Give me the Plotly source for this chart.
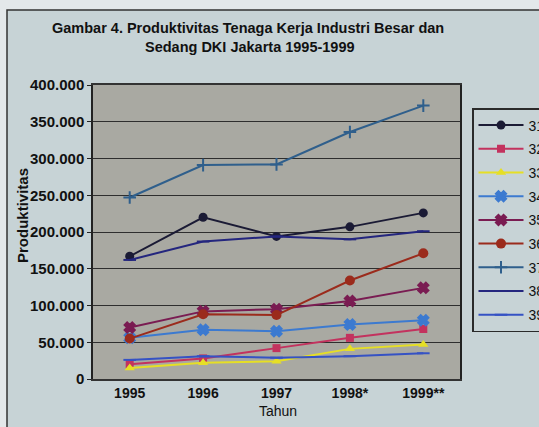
import plotly.graph_objects as go

years = ["1995", "1996", "1997", "1998*", "1999**"]
series_names = ["31", "32", "33", "34", "35", "36", "37", "38", "39"]
s31 = [167000, 220000, 194000, 207000, 226000]
s32 = [20000, 28000, 42000, 56000, 68000]
s33 = [15000, 22000, 24000, 41000, 47000]
s34 = [56000, 67000, 65000, 74000, 80000]
s35 = [70000, 92000, 95000, 106000, 124000]
s36 = [55000, 88000, 87000, 134000, 171000]
s37 = [247000, 291000, 292000, 336000, 372000]
s38 = [162000, 187000, 194000, 190000, 201000]
s39 = [26000, 31000, 29000, 31000, 35000]
values = [s31, s32, s33, s34, s35, s36, s37, s38, s39]

y_tickvals = [0, 50000, 100000, 150000, 200000, 250000, 300000, 350000, 400000]
y_ticktext = ["0", "50.000", "100.000", "150.000", "200.000", "250.000", "300.000", "350.000", "400.000"]

colors = ["#1b1b35", "#c3325e", "#e6df25", "#3c7ad0", "#7a1c52", "#9b2b1c", "#2f5f8c", "#24267e", "#3552c4"]
symbols = ["circle", "square", "triangle-up", "x", "x", "circle", "cross-thin", "line-ew", "line-ew"]
msizes = [9, 8, 9, 9, 9, 10, 9, 9, 9]

W, H = 539, 427
L, R, T, B = 93, 460, 85, 379

def xp(px):
    return (px - L) / (R - L)

def yp(py):
    return (B - py) / (B - T)

fig = go.Figure()
for name, vals, c, sym, ms in zip(series_names, values, colors, symbols, msizes):
    mline = dict(width=2, color=c) if sym in ("x", "cross-thin", "line-ew") else dict(width=0)
    fig.add_trace(go.Scatter(
        x=years, y=vals, name=name, mode="lines+markers",
        legendgroup=name,
        line=dict(color=c, width=2),
        marker=dict(symbol=sym, size=ms, color=c, line=mline),
    ))

font_main = "Liberation Sans, Arial, sans-serif"
panel = "#c7d3d6"

fig.update_layout(
    width=W, height=H,
    margin=dict(l=L, r=W - R, t=T, b=H - B, autoexpand=False),
    paper_bgcolor=panel,
    plot_bgcolor="#a9a9a2",
    font=dict(family=font_main, size=13, color="#111111"),
    showlegend=True,
    legend=dict(
        x=xp(472), y=yp(108), xanchor="left", yanchor="top",
        bgcolor=panel, bordercolor="#2a2a2a", borderwidth=1.5,
        font=dict(family=font_main, size=14, color="#111111"),
        tracegroupgap=2.5, itemwidth=45,
    ),
    xaxis=dict(
        type="category", range=[-0.5, 4.5],
        showgrid=False, showline=True, linecolor="#333333", linewidth=1.5, mirror=True,
        ticks="", tickfont=dict(family=font_main, size=14, color="#111111", weight="bold"),
        zeroline=False,
    ),
    yaxis=dict(
        range=[0, 400000], tickvals=y_tickvals, ticktext=y_ticktext,
        showgrid=True, gridcolor="#2e2e2e", gridwidth=1,
        showline=True, linecolor="#222222", linewidth=1.5, mirror=True,
        ticks="outside", ticklen=4, tickcolor="#222222",
        tickfont=dict(family=font_main, size=15, color="#111111", weight="bold"),
        zeroline=False,
    ),
    shapes=[
        dict(type="rect", xref="paper", yref="paper", x0=xp(0) - 0.05, x1=2, y0=yp(10), y1=yp(0) + 0.05,
             fillcolor="#e3e8ea", line=dict(width=0), layer="above"),
        dict(type="rect", xref="paper", yref="paper", x0=xp(0) - 0.05, x1=xp(7), y0=-1, y1=yp(0) + 0.05,
             fillcolor="#e3e8ea", line=dict(width=0), layer="above"),
        dict(type="rect", xref="paper", yref="paper", x0=xp(7), x1=2, y0=-1, y1=yp(10),
             fillcolor="rgba(0,0,0,0)", line=dict(width=1.5, color="#333333"), layer="above"),
    ],
    annotations=[
        dict(text="<b>Gambar 4. Produktivitas Tenaga Kerja Industri Besar dan</b>", x=xp(248), y=yp(28),
             xref="paper", yref="paper", showarrow=False, xanchor="center", yanchor="middle",
             font=dict(family=font_main, size=14.5, color="#111111")),
        dict(text="<b>Sedang DKI Jakarta 1995-1999</b>", x=xp(250), y=yp(47),
             xref="paper", yref="paper", showarrow=False, xanchor="center", yanchor="middle",
             font=dict(family=font_main, size=14.5, color="#111111")),
        dict(text="<b>Produktivitas</b>", x=xp(22), y=yp(216), textangle=-90,
             xref="paper", yref="paper", showarrow=False, xanchor="center", yanchor="middle",
             font=dict(family=font_main, size=15, color="#111111")),
        dict(text="Tahun", x=xp(278), y=yp(411),
             xref="paper", yref="paper", showarrow=False, xanchor="center", yanchor="middle",
             font=dict(family=font_main, size=14, color="#111111")),
    ],
)

fig.write_html(
    "out.html",
    config={"displayModeBar": False},
    post_script="document.body.style.margin='0';document.body.style.overflow='hidden';",
)
